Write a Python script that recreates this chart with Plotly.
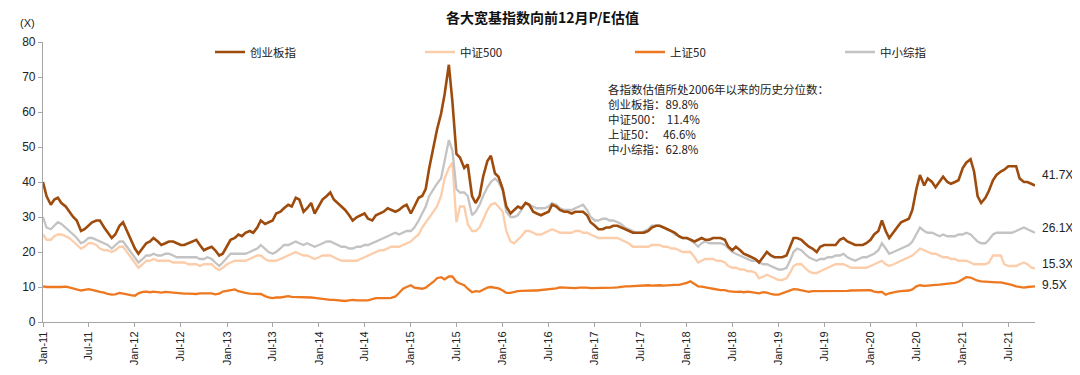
import pandas as pd
import plotly.graph_objects as go

# Semi-monthly observation dates (1st and 15th), Jan-2011 .. mid-Oct-2021
dates = pd.date_range("2011-01-01", "2021-10-15", freq="SMS")

# 创业板指 forward 12M P/E
chinext = [
    40, 36, 33.5, 35, 35.5, 34, 33, 31.5, 30, 29, 26, 26.5, 27.5, 28.5, 29, 29, 27, 25.5, 24, 25, 27.5, 28.5, 26, 24,
    21, 19.5, 21, 22.5, 23, 24, 23, 22, 22.5, 23, 23, 22.5, 22, 22, 22.5, 23, 23.5, 22, 20.5, 21, 21.5, 20.5, 19, 19.5,
    21.5, 23.5, 24, 25, 24.5, 25.5, 26, 25.5, 27, 29, 28, 28.5, 29, 31, 31.5, 32.5, 33.5, 33, 35.5, 35, 31.5, 32.5, 34, 31,
    33, 35, 36, 37, 35, 34, 33, 32, 30.5, 29, 30, 30.5, 31, 29.5, 29, 30.5, 31, 31.5, 32.5, 32, 31.5, 32, 33, 33.5,
    31, 33, 35.5, 36, 38, 44, 50.5, 55, 59.5, 65, 73.5, 63, 48, 47, 44, 45, 36, 34, 36, 41.5, 46, 47.5, 42.5, 41.5,
    38, 33, 31, 32, 33, 32.5, 34, 33.5, 31.5, 31, 30.5, 31, 31.5, 33.5, 33, 32, 31.5, 31.5, 31, 31.5, 31.5, 31.5, 30.5, 28.5,
    27.5, 26.5, 26.5, 27, 27, 27.5, 27.5, 27, 26.5, 26, 25.5, 25.5, 25.5, 25.5, 26, 27, 27.5, 27.5, 27, 26.5, 26, 25.5, 24.5, 24,
    24, 23.5, 23, 23.5, 24, 23.5, 23.5, 24, 24, 24, 23.5, 21.5, 20.5, 21.5, 20.5, 19.5, 19, 18.5, 18, 17, 18.5, 20, 19, 18.5,
    18.5, 18.5, 19, 21.5, 24, 24, 23.5, 22.5, 21.5, 21, 20, 21.5, 22, 22, 22, 22, 23.5, 24, 23, 22.5, 22, 22, 22, 22.5,
    23.5, 25, 26, 29, 26, 24, 25.5, 27, 28.5, 29, 29.5, 32, 38, 42, 39, 41, 40, 38.5, 40, 41.5, 40, 39.5, 40, 40.5,
    44, 45.5, 46.5, 43, 36, 34, 35.5, 37.5, 40.5, 42, 43, 43.5, 44.5, 44.5, 44.5, 41, 40, 40, 39.5, 39,
]

# 中证500 forward 12M P/E
csi500 = [
    25, 23.5, 23.5, 24.5, 25, 25, 24.5, 24, 23, 22, 21, 21.5, 22.5, 22.5, 22, 21, 20.5, 20.5, 20, 20.5, 21.5, 21.5, 20, 18.5,
    17, 15.5, 16.5, 17.5, 17.5, 18, 17.5, 17.5, 17.5, 17.5, 17, 17, 17, 17, 16.5, 16.5, 16.5, 16, 16.5, 16.5, 16.5, 15.5, 14.8, 15.5,
    16.5, 17, 17.5, 17.5, 17.5, 17.5, 18, 18.5, 19, 19, 18, 17.5, 17.5, 17.5, 18, 18.5, 19, 19.5, 20, 19.5, 19, 19, 18.5, 18,
    18.5, 19, 19, 19, 18.5, 18, 17.5, 17.5, 17.5, 17.5, 17.5, 18, 18.5, 19, 19.5, 20, 20.5, 20.5, 21, 21.5, 21.5, 21.5, 22, 22.5,
    23, 24, 25, 27, 28.5, 30, 31.5, 33, 36, 41, 44, 45.5, 28.5, 33, 33, 28, 26, 26, 27, 29.5, 32, 33.5, 34, 33,
    31.5, 26, 23, 22.5, 23.5, 24.5, 26, 26, 25.5, 25, 25, 25.5, 26, 26.5, 26, 25.5, 25.5, 25.5, 25.5, 26, 26, 25.5, 25.5, 25,
    24.5, 24, 24, 24, 24, 24, 24, 23.5, 23, 22.5, 21.5, 21.5, 21.5, 21.5, 21.5, 22, 22, 22, 21.5, 21.5, 21, 21, 20.5, 20,
    20, 20, 18.5, 17, 17.5, 18, 18, 18, 17.5, 17.5, 17, 16, 15.5, 15.5, 15, 15, 14.5, 14.5, 14, 12.5, 13, 13.5, 13, 12.5,
    12, 12, 12.5, 14, 16, 16.5, 16.5, 15.5, 14.5, 14, 14, 14.5, 15, 15.5, 16, 16.5, 16.5, 16.5, 16, 15.5, 15.5, 15.5, 15.5, 15.5,
    16, 16.5, 17, 17.5, 16.5, 16, 16.5, 17, 17.5, 18, 18.5, 19, 20, 21, 20.5, 20, 19.5, 19.5, 19, 18.5, 18.5, 18, 18, 17.5,
    17.5, 17.5, 17, 16.5, 16.5, 16.5, 16.5, 17, 19, 19, 19, 16.5, 16, 16, 16, 16.5, 17, 16.5, 15.5, 15.3,
]

# 上证50 forward 12M P/E
sse50 = [
    10.2, 10, 10, 10.1, 10, 10, 10.1, 9.9, 9.6, 9.3, 9, 9.2, 9.4, 9.2, 8.8, 8.6, 8.4, 8, 7.8, 7.9, 8.3, 8.2, 7.9, 7.7,
    7.5, 8.2, 8.6, 8.7, 8.5, 8.7, 8.6, 8.4, 8.6, 8.5, 8.2, 8.1, 8.1, 8.1, 8.1, 8, 8, 8.2, 8.2, 8.1, 8.2, 7.9, 8.1, 8.7,
    8.9, 9, 9.3, 8.8, 8.5, 8.3, 8.1, 8.1, 8, 8, 7.4, 7, 6.8, 7, 7, 7.2, 7.4, 7.2, 7.2, 7.1, 7.1, 7, 7, 6.9,
    6.7, 6.5, 6.4, 6.3, 6.3, 6.2, 6.1, 6, 6.2, 6.3, 6.2, 6.3, 6.2, 6.2, 6.5, 6.8, 6.8, 6.7, 6.8, 6.9, 7.3, 8.3, 9.5, 10,
    10.5, 9.8, 9.6, 9.5, 9.8, 10.5, 11.5, 12.5, 12.8, 12.2, 13, 13, 11.5, 11, 10.5, 9.5, 8.5, 8.8, 8.7, 9.2, 9.8, 10, 9.9, 9.6,
    9, 8.3, 8.3, 8.6, 8.8, 8.9, 9, 9.1, 9, 9, 9.1, 9.2, 9.3, 9.5, 9.6, 9.9, 9.8, 9.7, 9.6, 9.7, 9.8, 9.9, 9.8, 9.7,
    9.7, 9.6, 9.7, 9.8, 9.8, 9.8, 9.9, 10.1, 10.2, 10.2, 10.3, 10.4, 10.5, 10.4, 10.5, 10.4, 10.5, 10.5, 10.4, 10.5, 10.6, 10.6, 10.6, 10.8,
    11.2, 11.6, 10.9, 10.2, 10.1, 10, 9.7, 9.5, 9.2, 9.1, 9.1, 8.8, 8.7, 8.6, 8.7, 8.5, 8.7, 8.5, 8.4, 8.2, 8.5, 8.4, 8, 7.8,
    7.8, 8.2, 8.7, 9.1, 9.4, 9.3, 9, 8.7, 8.6, 8.8, 8.8, 8.7, 8.8, 8.9, 8.8, 8.8, 8.9, 8.9, 8.9, 9, 9, 9, 9.1, 9.2,
    9.1, 8.7, 8.5, 8.6, 7.8, 8.2, 8.5, 8.7, 8.8, 8.8, 9, 9.3, 10.2, 10.5, 10.3, 10.4, 10.6, 10.6, 10.7, 10.8, 10.8, 11, 11.2, 11.5,
    12.2, 12.8, 12.7, 12.2, 11.8, 11.6, 11.5, 11.3, 11.2, 11.3, 11.3, 11.1, 10.9, 10.6, 10.2, 10, 9.8, 10, 10, 10.2,
]

# 中小综指 forward 12M P/E
smecomp = [
    30, 27, 26.5, 27.5, 28.5, 28, 27, 26, 25, 24, 22.5, 23, 24, 24, 23.5, 23, 22.5, 22, 21, 22, 23, 23, 21.5, 20,
    18.5, 17, 18, 19, 19, 19.5, 19, 19, 19.5, 19.5, 19, 18.5, 18.5, 18.5, 18.5, 18.5, 18.5, 18, 18, 18.5, 18, 17, 16, 17,
    18.5, 19.5, 19.5, 19.5, 19.5, 19.5, 20, 20.5, 21, 22, 21, 20, 19.5, 20, 21, 22, 22, 22.5, 23, 22.5, 22, 22.5, 22, 21.5,
    22, 22.5, 23, 23, 22.5, 22, 21.5, 21.5, 21, 21, 21.5, 21.5, 22, 22, 22.5, 23, 23.5, 24, 24.5, 25, 25.5, 25, 25.5, 26,
    26, 27, 29, 31, 33, 36, 38, 39.5, 41, 46, 52, 49, 38, 37, 37, 36, 30.5, 31.5, 33.5, 36, 38.5, 40, 41, 40,
    37.5, 31.5, 30, 30, 30.5, 32, 34, 33.5, 33, 32.5, 32.5, 32.5, 33, 34, 33.5, 32.5, 32, 32, 32, 32.5, 33, 33.5, 32, 30,
    29, 29, 29.5, 29.5, 29, 29, 28.5, 28, 27, 26.5, 26, 25.5, 25.5, 26, 26.5, 27.5, 27.5, 27.5, 27, 26.5, 26, 25, 24.5, 24,
    24, 23.5, 22.5, 21.5, 22.5, 23, 22.5, 22.5, 22.5, 22.5, 22, 21, 20, 19.5, 19, 18.5, 18, 17.5, 17.5, 17, 16.5, 16.5, 16, 15.5,
    15, 15, 15.5, 17.5, 20, 21, 20.5, 19.5, 18.5, 18, 17.5, 18, 18, 18.5, 18.5, 19, 19, 19.5, 18.5, 18, 17.5, 18, 18.5, 18.5,
    19, 19.5, 20.5, 22.5, 21, 19.5, 20, 20.5, 21, 21.5, 22, 23, 25, 27, 26, 25.5, 25.5, 25, 24.5, 25, 24.5, 24.5, 24.5, 25,
    25, 25.5, 25, 24, 23, 22.5, 22.5, 23.5, 25, 25.5, 25.5, 25.5, 25.5, 25.5, 26, 26.5, 27, 26.5, 26, 25.5,
]

series_names = ["创业板指", "中证500", "上证50", "中小综指"]
series_values = [chinext, csi500, sse50, smecomp]
series_colors = ["#9E4B0E", "#FCCDAA", "#EE7820", "#C3C3C3"]

title_text = "各大宽基指数向前12月P/E估值"
end_labels = ["41.7X", "26.1X", "15.3X", "9.5X"]
end_label_pos = [42.0, 26.9, 16.6, 10.6]

note_lines = [
    "各指数估值所处2006年以来的历史分位数：",
    "创业板指：89.8%",
    "中证500：  11.4%",
    "上证50：   46.6%",
    "中小综指：62.8%",
]

for v in series_values:
    assert len(v) == len(dates), (len(v), len(dates))

FONT = "Liberation Sans, Arial, Noto Sans CJK SC, sans-serif"
CJK = "Noto Sans CJK SC, Liberation Sans, sans-serif"

# page body has an 8px margin -> plot area lands at x 43..1035, y 42..322 on screen
W, H = 1072, 367
L, T = 35, 34
PW, PH = 992, 280
R = W - L - PW
B = H - T - PH

fig = go.Figure()
order = [1, 3, 2, 0]   # draw light & gray below, brown on top
for k in order:
    fig.add_trace(go.Scatter(
        x=dates, y=series_values[k], mode="lines", name=series_names[k],
        line=dict(color=series_colors[k], width=2.6 if k == 0 else 2.3),
        legendrank=k,
    ))

fig.update_layout(
    width=W, height=H,
    margin=dict(l=L, r=R, t=T, b=B, autoexpand=False),
    paper_bgcolor="white", plot_bgcolor="white",
    font=dict(family=FONT, size=12, color="#222222"),
    showlegend=True,
    legend=dict(orientation="h", x=(210 - 43) / PW, xanchor="left", y=(322 - 52) / PH, yanchor="middle",
                entrywidth=165, entrywidthmode="pixels", traceorder="normal",
                font=dict(family=CJK, size=11.5, color="#222222"),
                bgcolor="rgba(0,0,0,0)", itemwidth=30),
)

fig.update_xaxes(
    type="date", range=["2011-01-01", "2021-10-15"],
    tick0="2011-01-01", dtick="M6", tickformat="%b-%y", tickangle=-90,
    showgrid=False, zeroline=False,
    showline=True, linecolor="#A6A6A6", linewidth=1.2,
    ticks="outside", ticklen=4, tickcolor="#A6A6A6",
    tickfont=dict(family=FONT, size=11, color="#222222"),
)
fig.update_yaxes(
    range=[0, 80], dtick=10, showgrid=False, zeroline=False,
    showline=True, linecolor="#A6A6A6", linewidth=1.2,
    ticks="outside", ticklen=4, tickcolor="#A6A6A6",
    tickfont=dict(family=FONT, size=12, color="#222222"),
)

# chart title
fig.add_annotation(text="<b>" + title_text + "</b>", xref="paper", yref="paper",
                   x=(542 - 43) / PW, y=(322 - 16.5) / PH, xanchor="center", yanchor="middle",
                   showarrow=False, font=dict(family=CJK, size=14, color="#111111"))

fig.add_annotation(text="(X)", xref="paper", yref="paper", x=(18 - 43) / PW, y=(322 - 15) / PH,
                   showarrow=False, font=dict(family=FONT, size=11, color="#222222"))

fig.add_annotation(text="<br>".join(note_lines), xref="paper", yref="paper",
                   x=(606 - 43) / PW, y=(322 - 79) / PH, xanchor="left", yanchor="top",
                   align="left", showarrow=False,
                   font=dict(family=CJK, size=11.5, color="#222222"))

for lab, pos in zip(end_labels, end_label_pos):
    fig.add_annotation(text=lab, xref="paper", yref="y", x=(1040 - 43) / PW, y=pos,
                       xanchor="left", yanchor="middle", showarrow=False,
                       font=dict(family=FONT, size=12, color="#222222"))

fig.write_html("out.html")
